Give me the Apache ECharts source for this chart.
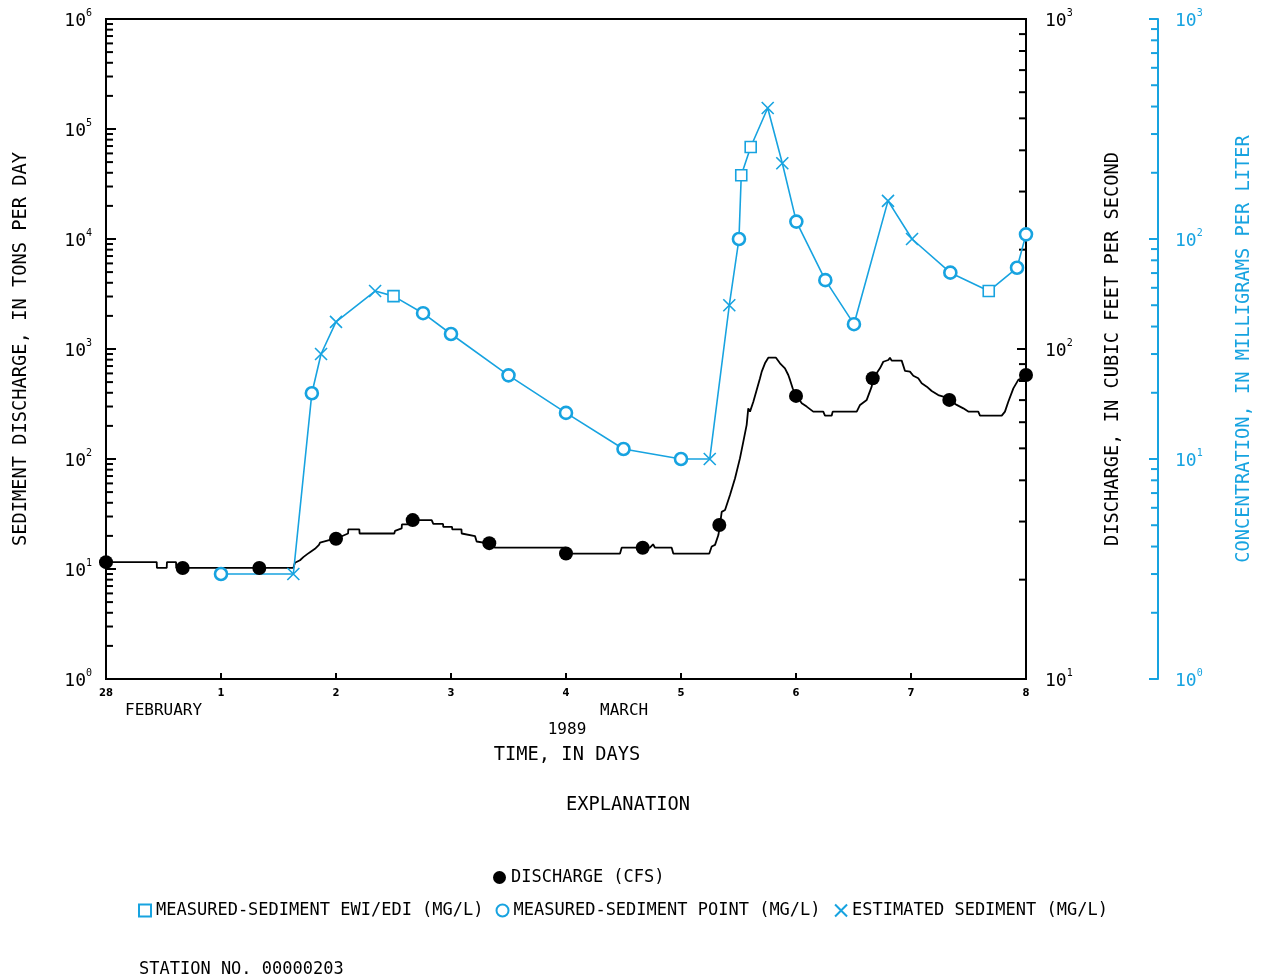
<!DOCTYPE html>
<html><head><meta charset="utf-8">
<script src="https://cdn.jsdelivr.net/npm/echarts@6/dist/echarts.min.js"></script>
<style>html,body{margin:0;padding:0;background:#fff}#c{width:1262px;height:980px}</style>
</head><body><div id="c"></div>
<script>
// ---------------- DATA ----------------
const dayTickLabels = ['28','1','2','3','4','5','6','7','8'];

// Discharge (cfs): measured dots
const dischargeDotDays   = [0, 0.667, 1.333, 2, 2.667, 3.333, 4, 4.667, 5.333, 6, 6.667, 7.333, 8];
const dischargeDotValues = [22.6, 21.7, 21.7, 26.6, 30.3, 25.8, 24.0, 25.0, 29.3, 72.1, 81.5, 70.1, 83.4];

// Discharge (cfs): continuous record
const dischargeTraceDays = [0,0.441,0.443,0.528,0.530,0.609,0.611,1.629,1.643,1.687,1.716,1.750,1.780,1.817,1.852,1.861,1.948,2.0,2.105,2.107,2.203,2.205,2.507,2.513,2.571,2.573,2.629,2.663,2.745,2.832,2.846,2.931,2.933,3.009,3.011,3.091,3.093,3.209,3.223,3.310,3.383,3.998,4.006,4.470,4.484,4.730,4.757,4.774,4.919,4.933,5.246,5.267,5.296,5.325,5.339,5.354,5.383,5.426,5.470,5.513,5.542,5.571,5.585,5.600,5.629,5.658,5.687,5.702,5.730,5.759,5.826,5.861,5.904,5.933,5.948,5.971,6.006,6.050,6.093,6.150,6.237,6.252,6.310,6.319,6.528,6.557,6.615,6.658,6.672,6.730,6.759,6.803,6.817,6.832,6.919,6.948,6.991,7.020,7.063,7.093,7.137,7.180,7.237,7.281,7.339,7.397,7.455,7.498,7.585,7.600,7.789,7.817,7.846,7.890,7.933,7.991,8.0];
const dischargeTraceValues = [22.6,22.6,21.7,21.7,22.6,22.6,21.7,21.7,22.5,22.9,23.4,23.9,24.3,24.8,25.5,25.9,26.4,26.6,27.6,28.4,28.4,27.6,27.6,28.1,28.6,29.4,29.4,30.3,30.3,30.3,29.5,29.5,28.9,28.9,28.4,28.4,27.6,27.1,26.1,25.8,25.0,25.0,24.0,24.0,25.0,25.0,25.6,25.0,25.0,24.0,24.0,25.2,25.5,27.3,29.3,32.1,32.5,36.1,40.6,46.7,52.4,58.9,66.1,64.6,69.2,75.1,81.5,85.4,90.5,94.1,94.1,90.5,87.4,83.4,80.6,76.0,72.1,68.5,66.9,64.6,64.6,62.8,62.8,64.6,64.6,67.7,70.1,76.9,81.5,87.4,91.5,92.6,94.1,92.2,92.2,85.8,85.4,83.0,81.5,78.7,76.9,74.6,72.5,71.7,70.1,67.7,66.1,64.6,64.6,62.8,62.8,64.6,69.2,76.0,80.6,82.4,83.4];

// Concentration (mg/L), in time order; kind: ewi = measured EWI/EDI, point = measured point, est = estimated
const concDays   = [1.0, 1.629, 1.79, 1.87, 2.0, 2.34, 2.5, 2.757, 3.0, 3.5, 4.0, 4.5, 5.0, 5.25, 5.42, 5.504, 5.524, 5.606, 5.754, 5.881, 6.003, 6.255, 6.504, 6.8, 7.009, 7.342, 7.676, 7.922, 8.0];
const concValues = [3.0, 3.0, 19.9, 30, 42, 58, 55, 46, 37, 24, 16.2, 11.1, 10, 10, 50, 100, 195, 262, 394, 221, 120, 65, 41, 149, 100, 70.3, 58, 74, 105];
const concKinds  = ['point','est','point','est','est','est','ewi','point','point','point','point','point','point','est','est','point','ewi','ewi','est','est','point','point','point','est','est','point','ewi','point','point'];

const seriesNames = {
  discharge: 'DISCHARGE (CFS)',
  ewi: 'MEASURED-SEDIMENT EWI/EDI (MG/L)',
  point: 'MEASURED-SEDIMENT POINT (MG/L)',
  est: 'ESTIMATED SEDIMENT (MG/L)'
};

// ---------------- STYLE ----------------
const BLUE = '#17a3e0';
const MONO = 'DejaVu Sans Mono';

function pairs(xs, ys) { return xs.map((x, i) => [x, ys[i]]); }
function concOf(kind) {
  return concDays.map((d, i) => [d, concValues[i], concKinds[i]]).filter(p => p[2] === kind).map(p => [p[0], p[1]]);
}
function minorValues(minExp, maxExp) {
  const out = [];
  for (let e = minExp; e < maxExp; e++) for (let m = 2; m <= 9; m++) out.push(m * Math.pow(10, e));
  return out;
}
function powLabel(v) {
  const e = Math.round(Math.log10(v));
  return '{b|10}{s|' + e + '}';
}
function richFor(color) {
  return {
    b: { fontFamily: MONO, fontSize: 18, color: color, lineHeight: 22, verticalAlign: 'bottom' },
    s: { fontFamily: MONO, fontSize: 10, color: color, lineHeight: 22, verticalAlign: 'top' }
  };
}
// minor tick marks drawn through each axis' own scale
function minorTicks(yIdx, xVal, values, xOffset, dir, len, color) {
  return {
    type: 'custom', xAxisIndex: 0, yAxisIndex: yIdx, silent: true, clip: false, z: 4,
    data: values.map(v => [xVal, v]),
    renderItem: function (params, api) {
      const p = api.coord([api.value(0), api.value(1)]);
      const x0 = p[0] + xOffset;
      return { type: 'line', shape: { x1: x0, y1: p[1], x2: x0 + dir * len, y2: p[1] },
               style: { stroke: color, lineWidth: 2 } };
    }
  };
}

const chart = echarts.init(document.getElementById('c'), null, { renderer: 'canvas' });

const option = {
  backgroundColor: '#fff',
  animation: false,
  grid: { left: 106, top: 19, width: 920, height: 660, show: true, borderColor: '#000', borderWidth: 2, backgroundColor: 'transparent' },
  xAxis: {
    type: 'value', min: 0, max: 8, interval: 1,
    axisLine: { lineStyle: { color: '#000', width: 2 } },
    axisTick: { inside: true, length: 6, lineStyle: { color: '#000', width: 2 } },
    splitLine: { show: false },
    axisLabel: { margin: 9, fontFamily: 'DejaVu Sans', fontWeight: 'bold', fontSize: 10, color: '#000',
                 formatter: v => dayTickLabels[Math.round(v)] }
  },
  yAxis: [
    { type: 'log', logBase: 10, min: 1, max: 1e6, position: 'left',
      axisLine: { show: true, lineStyle: { color: '#000', width: 2 } },
      axisTick: { show: true, inside: true, length: 10, lineStyle: { color: '#000', width: 2 } },
      splitLine: { show: false },
      axisLabel: { margin: 14, formatter: powLabel, rich: richFor('#000') } },
    { type: 'log', logBase: 10, min: 10, max: 1000, position: 'right',
      axisLine: { show: true, lineStyle: { color: '#000', width: 2 } },
      axisTick: { show: true, inside: true, length: 9, lineStyle: { color: '#000', width: 2 } },
      splitLine: { show: false },
      axisLabel: { margin: 19, formatter: powLabel, rich: richFor('#000') } },
    { type: 'log', logBase: 10, min: 1, max: 1000, position: 'right', offset: 132,
      axisLine: { show: true, lineStyle: { color: BLUE, width: 2 } },
      axisTick: { show: true, inside: true, length: 9, lineStyle: { color: BLUE, width: 2 } },
      splitLine: { show: false },
      axisLabel: { margin: 17, formatter: powLabel, rich: richFor(BLUE) } }
  ],
  legend: [
    { left: 488, top: 864, itemWidth: 13, itemHeight: 13, itemGap: 14,
      textStyle: { fontFamily: MONO, fontSize: 17, color: '#000' },
      data: [seriesNames.discharge], selectedMode: false },
    { left: 133, top: 897, itemWidth: 12, itemHeight: 12, itemGap: 12,
      textStyle: { fontFamily: MONO, fontSize: 17, color: '#000' },
      data: [seriesNames.ewi, seriesNames.point, seriesNames.est], selectedMode: false }
  ],
  graphic: [
    { type: 'text', x: 21, y: 349, rotation: Math.PI / 2,
      style: { text: 'SEDIMENT DISCHARGE, IN TONS PER DAY', fontFamily: MONO, fontSize: 18.7, fill: '#000', align: 'center', verticalAlign: 'middle' } },
    { type: 'text', x: 1113, y: 349, rotation: Math.PI / 2,
      style: { text: 'DISCHARGE, IN CUBIC FEET PER SECOND', fontFamily: MONO, fontSize: 18.7, fill: '#000', align: 'center', verticalAlign: 'middle' } },
    { type: 'text', x: 1244, y: 349, rotation: Math.PI / 2,
      style: { text: 'CONCENTRATION, IN MILLIGRAMS PER LITER', fontFamily: MONO, fontSize: 18.7, fill: BLUE, align: 'center', verticalAlign: 'middle' } },
    { type: 'text', x: 125, y: 711,
      style: { text: 'FEBRUARY', fontFamily: MONO, fontSize: 16, fill: '#000', align: 'left', verticalAlign: 'middle' } },
    { type: 'text', x: 600, y: 711,
      style: { text: 'MARCH', fontFamily: MONO, fontSize: 16, fill: '#000', align: 'left', verticalAlign: 'middle' } },
    { type: 'text', x: 567, y: 730,
      style: { text: '1989', fontFamily: MONO, fontSize: 16, fill: '#000', align: 'center', verticalAlign: 'middle' } },
    { type: 'text', x: 567, y: 755,
      style: { text: 'TIME, IN DAYS', fontFamily: MONO, fontSize: 18.7, fill: '#000', align: 'center', verticalAlign: 'middle' } },
    { type: 'text', x: 628, y: 805,
      style: { text: 'EXPLANATION', fontFamily: MONO, fontSize: 18.7, fill: '#000', align: 'center', verticalAlign: 'middle' } },
    { type: 'text', x: 139, y: 970,
      style: { text: 'STATION NO. 00000203', fontFamily: MONO, fontSize: 17, fill: '#000', align: 'left', verticalAlign: 'middle' } }
  ],
  series: [
    minorTicks(0, 0, minorValues(0, 6), 0, 1, 7, '#000'),
    minorTicks(1, 8, minorValues(1, 3), 0, -1, 7, '#000'),
    minorTicks(2, 8, minorValues(0, 3), 132, -1, 7, BLUE),
    { name: 'dischargeTrace', type: 'line', xAxisIndex: 0, yAxisIndex: 1, data: pairs(dischargeTraceDays, dischargeTraceValues),
      showSymbol: false, symbol: 'none', lineStyle: { color: '#000', width: 1.8 }, z: 5 },
    { name: 'concLine', type: 'line', xAxisIndex: 0, yAxisIndex: 2, data: pairs(concDays, concValues),
      showSymbol: false, symbol: 'none', lineStyle: { color: BLUE, width: 1.6 }, z: 6 },
    { name: seriesNames.discharge, type: 'scatter', xAxisIndex: 0, yAxisIndex: 1, data: pairs(dischargeDotDays, dischargeDotValues),
      symbol: 'circle', symbolSize: 14, itemStyle: { color: '#000', opacity: 1 }, z: 8 },
    { name: seriesNames.ewi, type: 'scatter', xAxisIndex: 0, yAxisIndex: 2, data: concOf('ewi'),
      symbol: 'rect', symbolSize: 11, itemStyle: { color: '#fff', borderColor: BLUE, borderWidth: 1.6, opacity: 1 }, z: 9 },
    { name: seriesNames.point, type: 'scatter', xAxisIndex: 0, yAxisIndex: 2, data: concOf('point'),
      symbol: 'circle', symbolSize: 12, itemStyle: { color: '#fff', borderColor: BLUE, borderWidth: 2.6, opacity: 1 }, z: 9 },
    { name: seriesNames.est, type: 'scatter', xAxisIndex: 0, yAxisIndex: 2, data: concOf('est'),
      symbol: 'path://M0,0L10,10M10,0L0,10', symbolSize: 12, itemStyle: { color: 'none', borderColor: BLUE, borderWidth: 1.6, opacity: 1 }, z: 9 }
  ]
};
chart.setOption(option);
</script>
</body></html>
